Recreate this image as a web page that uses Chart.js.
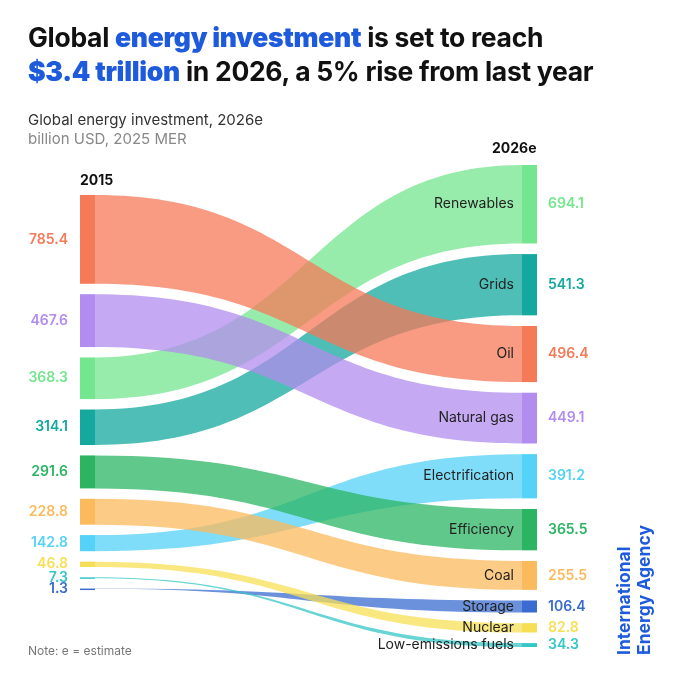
<!DOCTYPE html>
<html><head><meta charset="utf-8">
<script src="https://cdn.jsdelivr.net/npm/chart.js@4"></script>
<style>
body{margin:0;width:680px;height:679px;position:relative;background:#fff;font-family:Inter,"Noto Sans",sans-serif;color:#111;overflow:hidden}
#c{position:absolute;left:0;top:0}
.t{position:absolute;left:28px;top:20px;font-size:26.5px;font-weight:700;line-height:34px;letter-spacing:-0.3px}
.t b{color:#1d5bdc}
.s{position:absolute;left:28px;top:110px;font-size:15px;line-height:19px;color:#333}
.s span{color:#888}
.n{position:absolute;left:28px;top:643px;font-size:12px;color:#777}
.logo{position:absolute;left:614px;top:655px;transform:rotate(-90deg);transform-origin:0 0;color:#1d5bdc;font-weight:700;font-size:17.5px;line-height:20px;white-space:nowrap}
</style></head><body>
<canvas id="c" width="680" height="679"></canvas>
<div class="t">Global <b>energy investment</b> is set to reach<br><b>$3.4 trillion</b> in 2026, a 5% rise from last year</div>
<div class="s">Global energy investment, 2026e<br><span>billion USD, 2025 MER</span></div>
<div class="n">Note: e = estimate</div>
<div class="logo">International<br>Energy Agency</div>
<script>
// Данные
const categories = ["Renewables","Grids","Oil","Natural gas","Electrification","Efficiency","Coal","Storage","Nuclear","Low-emissions fuels"];
const values2015 = [368.3,314.1,785.4,467.6,142.8,291.6,228.8,1.3,46.8,7.3];
const values2026 = [694.1,541.3,496.4,449.1,391.2,365.5,255.5,106.4,82.8,34.3];
const order2015 = ["Oil","Natural gas","Renewables","Grids","Efficiency","Coal","Electrification","Nuclear","Low-emissions fuels","Storage"];
const colors = ["#74e690","#14a89e","#f57a58","#b28cee","#55d2f7","#2bb563","#fbba5c","#3a6bd0","#f7df55","#35c6c6"];

const gapR = 94, gapL = 92, offL = 265;

// Раскладка узлов по вертикали (в единицах значения)
const right = {}, left = {};
let y = 0;
categories.forEach((c, i) => { right[c] = [y, y + values2026[i]]; y += values2026[i] + gapR; });
const yMax = y - gapR;
y = offL;
order2015.forEach((c) => { const v = values2015[categories.indexOf(c)]; left[c] = [y, y + v]; y += v + gapL; });

function alpha(hex, a) {
  const n = parseInt(hex.slice(1), 16);
  return `rgba(${n >> 16},${(n >> 8) & 255},${n & 255},${a})`;
}

const sankey = {
  id: "sankey",
  afterDatasetsDraw(chart) {
    const ctx = chart.ctx, xs = chart.scales.x, ys = chart.scales.y;
    const xL = xs.getPixelForValue(0), xR = xs.getPixelForValue(1), w = 15;
    const x0 = xL + w, x1 = xR - w, mx = (x0 + x1) / 2;
    ctx.save();
    // потоки
    categories.forEach((c, i) => {
      const [la, lb] = left[c].map((v) => ys.getPixelForValue(v));
      const [ra, rb] = right[c].map((v) => ys.getPixelForValue(v));
      ctx.beginPath();
      ctx.moveTo(x0, la);
      ctx.bezierCurveTo(mx, la, mx, ra, x1, ra);
      ctx.lineTo(x1, rb);
      ctx.bezierCurveTo(mx, rb, mx, lb, x0, lb);
      ctx.closePath();
      ctx.fillStyle = alpha(colors[i], 0.75);
      ctx.fill();
    });
    // узлы и подписи
    categories.forEach((c, i) => {
      const [la, lb] = left[c].map((v) => ys.getPixelForValue(v));
      const [ra, rb] = right[c].map((v) => ys.getPixelForValue(v));
      ctx.fillStyle = colors[i];
      ctx.fillRect(xL, la, w, Math.max(lb - la, 1.5));
      ctx.fillRect(x1, ra, w, rb - ra);
      ctx.font = "600 14px Inter, sans-serif";
      ctx.textBaseline = "middle";
      ctx.textAlign = "right";
      ctx.fillText(values2015[i].toFixed(1), xL - 12, (la + lb) / 2);
      ctx.textAlign = "left";
      ctx.fillText(values2026[i].toFixed(1), xR + 11, (ra + rb) / 2);
      ctx.fillStyle = "#222";
      ctx.font = "14px Inter, sans-serif";
      ctx.textAlign = "right";
      ctx.fillText(c, x1 - 8, (ra + rb) / 2);
    });
    ctx.fillStyle = "#111";
    ctx.font = "700 14px Inter, sans-serif";
    ctx.textAlign = "left";
    ctx.fillText("2015", xL, ys.getPixelForValue(offL) - 14);
    ctx.fillText("2026e", x1 - 30, ys.getPixelForValue(0) - 16);
    ctx.restore();
  }
};

new Chart(document.getElementById("c"), {
  type: "scatter",
  data: { datasets: [{ data: [] }] },
  options: {
    responsive: false,
    animation: false,
    layout: { padding: { top: 165, bottom: 32, left: 80, right: 143 } },
    plugins: { legend: { display: false }, tooltip: { enabled: false } },
    scales: {
      x: { type: "linear", min: 0, max: 1, display: false },
      y: { type: "linear", min: 0, max: yMax, reverse: true, display: false }
    }
  },
  plugins: [sankey]
});
</script>
</body></html>
